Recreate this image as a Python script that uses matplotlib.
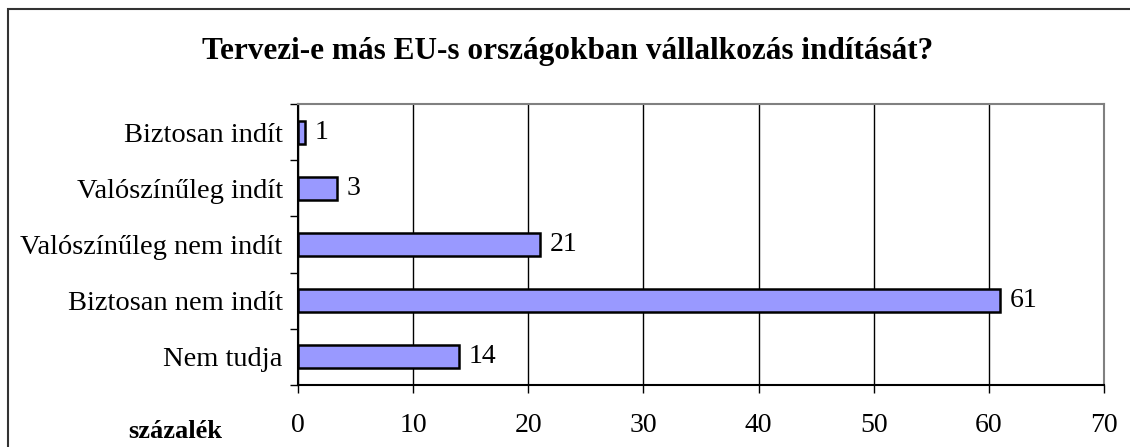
import matplotlib.pyplot as plt
from matplotlib.patches import Rectangle

categories = ["Biztosan indít", "Valószínűleg indít", "Valószínűleg nem indít",
              "Biztosan nem indít", "Nem tudja"]
values = [0.6, 3.4, 21.0, 61.0, 14.0]
xticks = [0, 10, 20, 30, 40, 50, 60, 70]

plt.rcParams['font.family'] = ['Liberation Serif', 'DejaVu Serif']

fig = plt.figure(figsize=(11.3, 4.47), dpi=100)
ax = fig.add_axes([298 / 1130, 1 - 385 / 447, (1104 - 298) / 1130, (385 - 104) / 447])

pos = list(range(len(categories)))
bars = ax.barh(pos, values, height=0.41, color='#9999ff', edgecolor='black', linewidth=1.8, zorder=3)
for b, v in zip(bars, values):
    ax.annotate('%.0f' % v, xy=(b.get_width(), b.get_y() + b.get_height() / 2),
                xytext=(7, 0), textcoords='offset points', va='center', ha='left', fontsize=20)

ax.set_xlim(0, 70)
ax.set_ylim(len(categories) - 0.5, -0.5)
ax.set_xticks(xticks)
ax.tick_params(axis='x', labelsize=20, length=6, width=1, direction='out', pad=14)
ax.set_yticks(pos)
ax.set_yticklabels(categories, fontsize=20.5)
ax.tick_params(axis='y', which='major', length=0, pad=11)
ax.set_yticks([p - 0.5 for p in pos] + [len(pos) - 0.5], minor=True)
ax.tick_params(axis='y', which='minor', length=6, width=1, direction='out')
ax.grid(axis='x', color='black', linewidth=1, zorder=0)

ax.spines['left'].set_color('black')
ax.spines['bottom'].set_color('black')
ax.spines['top'].set_color('#808080')
ax.spines['right'].set_color('#808080')
for s in ax.spines.values():
    s.set_linewidth(1.5)

fig.text(568 / 1130, 1 - 52 / 447, "Tervezi-e más EU-s országokban vállalkozás indítását?",
         ha='center', va='center', fontsize=22.5, fontweight='bold')
fig.text(175 / 1130, 1 - 432 / 447, "százalék", ha='center', va='center',
         fontsize=19, fontweight='bold')

fig.patches.append(Rectangle((8 / 1130, -0.1), 1.2, 1 - 9 / 447 + 0.1, transform=fig.transFigure,
                             fill=False, edgecolor='#333333', linewidth=1.5))

fig.savefig('out.png', dpi=100)
